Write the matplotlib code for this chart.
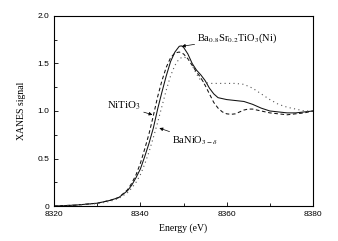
import matplotlib
matplotlib.use('Agg')
import matplotlib.pyplot as plt
import numpy as np

# energies (eV) and XANES signal
e_ni = [8320, 8325, 8330, 8333, 8335, 8337, 8338, 8339, 8340, 8341, 8342, 8343, 8344,
        8345, 8346, 8347, 8348, 8349, 8349.5, 8350, 8351, 8352, 8353, 8354, 8355, 8356,
        8357, 8358, 8360, 8362, 8364, 8366, 8368, 8370, 8372, 8374, 8376, 8378, 8380]
bst_ni = [0.0, 0.01, 0.03, 0.06, 0.09, 0.16, 0.22, 0.30, 0.39, 0.52, 0.66, 0.82, 1.02,
          1.20, 1.37, 1.52, 1.62, 1.68, 1.685, 1.67, 1.60, 1.50, 1.43, 1.38, 1.32, 1.24,
          1.18, 1.14, 1.12, 1.11, 1.10, 1.07, 1.03, 1.00, 0.99, 0.98, 0.98, 0.99, 1.00]

e_nti = [8320, 8325, 8330, 8333, 8335, 8337, 8338, 8339, 8340, 8341, 8342, 8343, 8344,
         8345, 8346, 8347, 8348, 8349, 8350, 8351, 8352, 8353, 8354, 8355, 8356, 8357,
         8358, 8359, 8360, 8361, 8362, 8363, 8364, 8365, 8366, 8368, 8370, 8372, 8374,
         8376, 8378, 8380]
nitio3 = [0.0, 0.01, 0.03, 0.06, 0.09, 0.17, 0.24, 0.33, 0.45, 0.60, 0.76, 0.95, 1.15,
          1.32, 1.46, 1.56, 1.61, 1.62, 1.60, 1.55, 1.48, 1.41, 1.35, 1.27, 1.18, 1.09,
          1.03, 0.99, 0.97, 0.965, 0.97, 0.99, 1.01, 1.02, 1.02, 1.00, 0.98, 0.97, 0.96,
          0.97, 0.98, 1.00]

e_bno = [8320, 8325, 8330, 8333, 8335, 8337, 8338, 8339, 8340, 8341, 8342, 8343, 8344,
         8345, 8346, 8347, 8348, 8349, 8350, 8351, 8352, 8353, 8354, 8355, 8356, 8358,
         8360, 8362, 8364, 8366, 8368, 8370, 8372, 8374, 8376, 8378, 8380]
banio3 = [0.0, 0.01, 0.025, 0.05, 0.08, 0.14, 0.19, 0.25, 0.33, 0.44, 0.57, 0.72, 0.88,
          1.05, 1.22, 1.37, 1.48, 1.55, 1.57, 1.55, 1.48, 1.39, 1.32, 1.30, 1.29, 1.29,
          1.29, 1.29, 1.28, 1.24, 1.18, 1.12, 1.07, 1.04, 1.02, 1.00, 1.00]

x_ticks = [8320, 8340, 8360, 8380]
y_ticks = [0, 0.5, 1.0, 1.5, 2.0]
y_tick_labels = ['0', '0.5', '1.0', '1.5', '2.0']

plt.rcParams['font.family'] = 'Liberation Serif'
plt.rcParams['mathtext.fontset'] = 'stix'

fig = plt.figure(figsize=(3.38, 2.41), dpi=100)
ax = fig.add_axes([0.160, 0.145, 0.766, 0.789])

ax.plot(e_ni, bst_ni, color='#111111', lw=0.75, ls='-')
ax.plot(e_nti, nitio3, color='#111111', lw=0.75, ls=(0, (3.5, 2.5)))
ax.plot(e_bno, banio3, color='#555555', lw=0.8, ls=(0, (1, 3)))

ax.set_xlim(8320, 8380)
ax.set_ylim(0, 2.0)
ax.set_xticks(x_ticks)
ax.set_xticks(np.arange(8330, 8380, 20), minor=True)
ax.set_yticks(y_ticks)
ax.set_yticklabels(y_tick_labels)
ax.set_yticks([0.25, 0.75, 1.25, 1.75], minor=True)
ax.tick_params(which='both', direction='in', top=False, right=False, labelsize=6)
ax.tick_params(which='major', length=3, width=0.6)
ax.tick_params(which='minor', length=2, width=0.6)
for lab in ax.get_xticklabels() + ax.get_yticklabels():
    lab.set_family('Liberation Sans')
for sp in ax.spines.values():
    sp.set_linewidth(0.8)

ax.set_xlabel('Energy (eV)', fontsize=7, labelpad=4)
ax.set_ylabel('XANES signal', fontsize=7, labelpad=8)

arw = dict(arrowstyle='-|>', color='black', lw=0.5, mutation_scale=5, shrinkA=0, shrinkB=0)
ax.annotate(r'Ba$_{0.8}$Sr$_{0.2}$TiO$_3$(Ni)', xy=(8349.6, 1.68), xytext=(8353.2, 1.77),
            fontsize=7.5, va='center', ha='left', arrowprops=arw)
ax.annotate(r'NiTiO$_3$', xy=(8342.8, 0.96), xytext=(8332.3, 1.05),
            fontsize=7.8, va='center', ha='left', arrowprops=arw)
ax.annotate(r'BaNiO$_{3-\delta}$', xy=(8344.4, 0.82), xytext=(8347.4, 0.69),
            fontsize=7.5, va='center', ha='left', arrowprops=arw)

fig.savefig('out.png', dpi=100)
